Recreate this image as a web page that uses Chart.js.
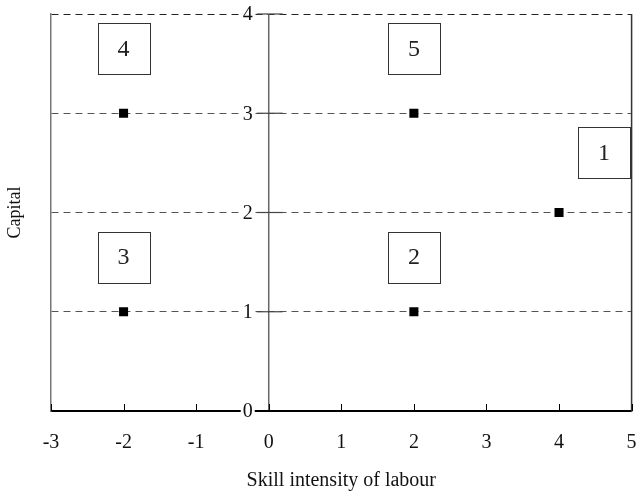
<!DOCTYPE html>
<html>
<head>
<meta charset="utf-8">
<script src="https://cdn.jsdelivr.net/npm/chart.js@4.4.1/dist/chart.umd.min.js"></script>
<style>
  html, body { margin: 0; padding: 0; background: #fff; }
  #wrap { width: 638px; height: 493px; }
</style>
</head>
<body>
<div id="wrap"><canvas id="myChart" width="638" height="493"></canvas></div>
<script>
// data
const xTicks = [-3, -2, -1, 0, 1, 2, 3, 4, 5];
const yTicks = [0, 1, 2, 3, 4];
const pointX = [-2, 2, 4, -2, 2];
const pointY = [3, 3, 2, 1, 1];
// numbered boxes (label, anchor in data units)
const boxText = ['4', '5', '1', '3', '2'];
const boxX = [-2, 2, 4.62, -2, 2];
const boxY = [3.65, 3.65, 2.6, 1.55, 1.55];

const serif = "'Liberation Serif', 'Times New Roman', serif";
Chart.defaults.font.family = serif;
Chart.defaults.color = '#000';

function line(ctx, x1, y1, x2, y2) {
  ctx.beginPath();
  ctx.moveTo(x1, y1);
  ctx.lineTo(x2, y2);
  ctx.stroke();
}

// mid axis at x = 0, inner ticks, right border and the numbered boxes
const framePlugin = {
  id: 'frame',
  afterDraw(chart) {
    const ctx = chart.ctx;
    const a = chart.chartArea;
    const x = chart.scales.x;
    const y = chart.scales.y;
    const x0 = x.getPixelForValue(0);
    ctx.save();

    ctx.strokeStyle = '#333';
    ctx.lineWidth = 1.5;
    line(ctx, a.right, a.top, a.right, a.bottom + 1);

    ctx.strokeStyle = '#666';
    ctx.lineWidth = 1.5;
    line(ctx, x0, a.top, x0, a.bottom);

    ctx.strokeStyle = '#000';
    ctx.lineWidth = 1;
    xTicks.forEach(v => {
      const px = Math.round(x.getPixelForValue(v)) + 0.5;
      line(ctx, px, a.bottom, px, a.bottom - 7);
    });

    ctx.font = '20px ' + serif;
    ctx.textAlign = 'right';
    ctx.textBaseline = 'middle';
    yTicks.forEach(v => {
      const py = y.getPixelForValue(v);
      const w = ctx.measureText(String(v)).width;
      ctx.fillStyle = '#fff';
      ctx.fillRect(x0 - 18 - w, py - 9, w + 4, 18);
      if (v === 0) {
        ctx.strokeStyle = '#000';
        ctx.lineWidth = 2;
      } else {
        ctx.strokeStyle = '#444';
        ctx.lineWidth = 1.2;
      }
      line(ctx, x0 - 12, py, x0 + 14, py);
      ctx.fillStyle = '#111';
      ctx.fillText(String(v), x0 - 16, py + 1);
    });

    ctx.font = '24px ' + serif;
    ctx.textAlign = 'center';
    boxText.forEach((t, i) => {
      const cx = x.getPixelForValue(boxX[i]);
      const cy = y.getPixelForValue(boxY[i]);
      ctx.fillStyle = '#fff';
      ctx.fillRect(cx - 26, cy - 25.5, 52, 51);
      ctx.strokeStyle = '#333';
      ctx.lineWidth = 1;
      ctx.strokeRect(Math.round(cx - 26) + 0.5, Math.round(cy - 25.5) + 0.5, 52, 51);
      ctx.fillStyle = '#222';
      ctx.fillText(t, cx, cy + 1);
    });
    ctx.restore();
  }
};

const ctx = document.getElementById('myChart');
const myChart = new Chart(ctx, {
  type: 'scatter',
  data: {
    datasets: [{
      label: 'points',
      data: pointX.map((v, i) => ({x: v, y: pointY[i]})),
      pointStyle: 'rect',
      pointRadius: 6.4,
      pointHoverRadius: 6.4,
      backgroundColor: '#000',
      borderColor: '#000',
      borderWidth: 0
    }]
  },
  options: {
    responsive: false,
    maintainAspectRatio: false,
    animation: false,
    layout: { padding: { top: 14, right: 0, left: 0, bottom: 0 } },
    plugins: {
      legend: { display: false },
      tooltip: { enabled: false }
    },
    scales: {
      x: {
        type: 'linear',
        min: -3,
        max: 5,
        afterBuildTicks: s => { s.ticks = xTicks.map(v => ({value: v})); },
        ticks: { font: { size: 20 }, color: '#111', padding: 20 },
        grid: { drawOnChartArea: false, drawTicks: false },
        border: { color: '#000', width: 2 },
        title: {
          display: true,
          text: 'Skill intensity of labour',
          font: { size: 20 },
          color: '#111',
          padding: { top: 0, bottom: 0 }
        },
        afterFit: s => {
          s.height = 82;
          s.paddingLeft = 0;
          s.paddingRight = 0;
        }
      },
      y: {
        type: 'linear',
        min: 0,
        max: 4,
        afterBuildTicks: s => { s.ticks = yTicks.map(v => ({value: v})); },
        ticks: { display: false },
        grid: {
          color: c => (c.tick && c.tick.value === 4 ? '#222' : '#555'),
          lineWidth: 1,
          drawTicks: false
        },
        border: { color: '#777', width: 1.5, dash: [7, 5] },
        title: {
          display: true,
          text: 'Capital',
          font: { size: 18 },
          color: '#111',
          padding: { top: 4, bottom: 0 }
        },
        afterFit: s => { s.width = 51; }
      }
    }
  },
  plugins: [framePlugin]
});
</script>
</body>
</html>
